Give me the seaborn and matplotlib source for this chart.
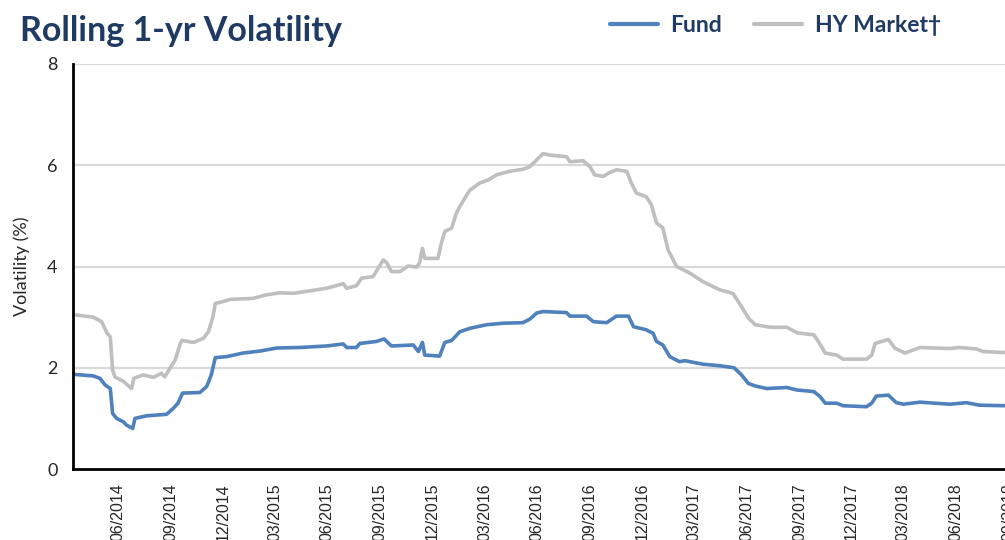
import pandas as pd
import numpy as np
import matplotlib
matplotlib.use('Agg')
import matplotlib.pyplot as plt
import matplotlib.dates as mdates
import seaborn as sns

# Fund rolling 1-yr volatility (%)
fund_dates = ['2014-03-15', '2014-04-19', '2014-05-01', '2014-05-10', '2014-05-19', '2014-05-23',
              '2014-05-30', '2014-06-11', '2014-06-16', '2014-06-27', '2014-07-01', '2014-07-21',
              '2014-08-13', '2014-08-25', '2014-09-06', '2014-09-14', '2014-09-22', '2014-10-22',
              '2014-11-03', '2014-11-11', '2014-11-18', '2014-12-08', '2015-01-05', '2015-02-04',
              '2015-03-05', '2015-04-14', '2015-05-31', '2015-06-29', '2015-07-05', '2015-07-22',
              '2015-07-28', '2015-08-26', '2015-09-08', '2015-09-21', '2015-10-29', '2015-11-07',
              '2015-11-14', '2015-11-18', '2015-12-14', '2015-12-23', '2016-01-04', '2016-01-18',
              '2016-02-05', '2016-03-05', '2016-04-03', '2016-05-07', '2016-05-19', '2016-05-31',
              '2016-06-11', '2016-07-22', '2016-07-28', '2016-08-26', '2016-09-07', '2016-09-30',
              '2016-10-17', '2016-11-07', '2016-11-16', '2016-12-08', '2016-12-20', '2016-12-26',
              '2017-01-06', '2017-01-18', '2017-02-04', '2017-02-13', '2017-03-17', '2017-04-15',
              '2017-05-10', '2017-05-23', '2017-06-04', '2017-06-16', '2017-07-06', '2017-08-10',
              '2017-08-28', '2017-09-26', '2017-10-07', '2017-10-16', '2017-11-05', '2017-11-16',
              '2017-12-27', '2018-01-05', '2018-01-13', '2018-02-03', '2018-02-17', '2018-03-01',
              '2018-03-30', '2018-05-21', '2018-06-19', '2018-07-12', '2018-08-26', '2018-09-30']
fund_vol = [1.87, 1.84, 1.79, 1.66, 1.59, 1.10,
            1.00, 0.93, 0.87, 0.80, 1.00, 1.05,
            1.07, 1.08, 1.20, 1.30, 1.50, 1.51,
            1.63, 1.86, 2.20, 2.22, 2.29, 2.33,
            2.39, 2.40, 2.43, 2.47, 2.40, 2.40,
            2.48, 2.52, 2.57, 2.43, 2.45, 2.32,
            2.50, 2.25, 2.23, 2.50, 2.54, 2.71,
            2.78, 2.85, 2.88, 2.89, 2.96, 3.08,
            3.11, 3.09, 3.02, 3.02, 2.91, 2.89,
            3.02, 3.02, 2.81, 2.75, 2.68, 2.52,
            2.45, 2.22, 2.12, 2.14, 2.07, 2.04,
            2.00, 1.86, 1.69, 1.64, 1.59, 1.61,
            1.56, 1.53, 1.43, 1.30, 1.30, 1.25,
            1.23, 1.30, 1.44, 1.46, 1.31, 1.28,
            1.32, 1.28, 1.31, 1.26, 1.25, 1.24]

# HY market rolling 1-yr volatility (%)
hy_dates = ['2014-03-15', '2014-04-19', '2014-05-04', '2014-05-13', '2014-05-19', '2014-05-23',
            '2014-05-27', '2014-06-11', '2014-06-25', '2014-06-29', '2014-07-15', '2014-08-02',
            '2014-08-16', '2014-08-22', '2014-08-31', '2014-09-09', '2014-09-18', '2014-09-21',
            '2014-10-11', '2014-10-28', '2014-11-06', '2014-11-14', '2014-11-18', '2014-12-02',
            '2014-12-14', '2015-01-23', '2015-02-15', '2015-03-10', '2015-04-03', '2015-05-02',
            '2015-05-31', '2015-06-29', '2015-07-05', '2015-07-22', '2015-07-31', '2015-08-20',
            '2015-08-29', '2015-09-07', '2015-09-13', '2015-09-21', '2015-10-06', '2015-10-20',
            '2015-11-04', '2015-11-09', '2015-11-14', '2015-11-18', '2015-12-11', '2015-12-17',
            '2015-12-23', '2016-01-04', '2016-01-12', '2016-01-18', '2016-01-30', '2016-02-05',
            '2016-02-22', '2016-03-08', '2016-03-22', '2016-04-14', '2016-05-07', '2016-05-19',
            '2016-05-28', '2016-06-11', '2016-06-23', '2016-07-22', '2016-07-28', '2016-08-20',
            '2016-09-01', '2016-09-09', '2016-09-24', '2016-10-06', '2016-10-17', '2016-11-04',
            '2016-11-12', '2016-11-21', '2016-12-08', '2016-12-17', '2016-12-26', '2017-01-06',
            '2017-01-15', '2017-01-30', '2017-02-22', '2017-03-17', '2017-04-15', '2017-05-08',
            '2017-05-23', '2017-06-04', '2017-06-16', '2017-07-12', '2017-08-10', '2017-08-28',
            '2017-09-26', '2017-10-04', '2017-10-16', '2017-11-05', '2017-11-16', '2017-12-27',
            '2018-01-05', '2018-01-11', '2018-02-03', '2018-02-14', '2018-03-04', '2018-03-30',
            '2018-05-21', '2018-06-07', '2018-07-07', '2018-07-18', '2018-08-26', '2018-09-30']
hy_vol = [3.05, 3.00, 2.91, 2.69, 2.61, 1.96,
          1.82, 1.73, 1.59, 1.79, 1.86, 1.81,
          1.89, 1.82, 1.99, 2.15, 2.48, 2.54,
          2.50, 2.58, 2.71, 3.01, 3.27, 3.31,
          3.35, 3.37, 3.44, 3.48, 3.47, 3.52,
          3.57, 3.66, 3.57, 3.62, 3.77, 3.80,
          3.97, 4.13, 4.07, 3.90, 3.90, 4.01,
          3.99, 4.07, 4.36, 4.16, 4.16, 4.46,
          4.69, 4.76, 5.05, 5.18, 5.41, 5.51,
          5.65, 5.71, 5.81, 5.88, 5.92, 5.97,
          6.07, 6.23, 6.20, 6.17, 6.07, 6.09,
          5.97, 5.81, 5.78, 5.86, 5.91, 5.88,
          5.65, 5.45, 5.38, 5.22, 4.86, 4.76,
          4.33, 4.00, 3.87, 3.70, 3.54, 3.47,
          3.21, 2.98, 2.85, 2.80, 2.80, 2.69,
          2.65, 2.52, 2.29, 2.25, 2.17, 2.17,
          2.25, 2.48, 2.56, 2.39, 2.29, 2.40,
          2.38, 2.40, 2.37, 2.32, 2.30, 2.30]

series_names = ['Fund', 'HY Market\u2020']
series_colors = ['#4F81BD', '#BFBFBF']
navy = '#1F3B63'

df = pd.concat([
    pd.DataFrame({'date': pd.to_datetime(fund_dates), 'vol': fund_vol, 'series': series_names[0]}),
    pd.DataFrame({'date': pd.to_datetime(hy_dates), 'vol': hy_vol, 'series': series_names[1]}),
])

sns.set_style('white')
plt.rcParams['font.family'] = ['Liberation Sans', 'DejaVu Sans']

fig = plt.figure(figsize=(10.05, 5.40), dpi=100)
# axes run past the right and bottom edge, like the cropped original
x0 = pd.Timestamp('2014-03-15')
x1 = pd.Timestamp('2018-09-30')
px_per_day = 838.3 / 1461
ax_w_px = (x1 - x0).days * px_per_day
ax = fig.add_axes([73 / 1005, 71 / 540, ax_w_px / 1005, 405 / 540])

for yv in [2, 4, 6, 8]:
    ax.axhline(yv, color='#D9D9D9', lw=1.6, zorder=0)

sns.lineplot(data=df, x='date', y='vol', hue='series', hue_order=series_names[::-1],
             palette=dict(zip(series_names, series_colors)), linewidth=2.6,
             legend=False, ax=ax, estimator=None, sort=False)

ax.set_xlim(x0, x1)
ax.set_ylim(0, 8)
ax.set_yticks([0, 2, 4, 6, 8])
ax.xaxis.set_major_locator(mdates.MonthLocator(bymonth=[3, 6, 9, 12]))
ax.xaxis.set_major_formatter(mdates.DateFormatter('%m/%Y'))
ax.tick_params(axis='x', labelrotation=90, labelsize=11.5, length=6, width=1.2,
               color='#7F7F7F', pad=4)
ax.tick_params(axis='y', labelsize=12, length=7, width=1.2, color='#404040', pad=4)
for lab in ax.get_yticklabels():
    lab.set_family(['Lato', 'DejaVu Sans'])
    lab.set_fontsize(13)

for s in ['top', 'right']:
    ax.spines[s].set_visible(False)
for s in ['left', 'bottom']:
    ax.spines[s].set_color('black')
    ax.spines[s].set_linewidth(2)

ax.set_xlabel('')
ax.set_ylabel('Volatility (%)', fontsize=13, family=['Lato', 'DejaVu Sans'])
ax.yaxis.set_label_coords(-51 / ax_w_px, 0.5)
ax.yaxis.label.set_va('center')

fig.text(20 / 1005, 1 - 31 / 540, 'Rolling 1-yr Volatility', ha='left', va='center',
         fontsize=24.5, fontweight='bold', color=navy, family=['Lato', 'DejaVu Sans'])

handles = [plt.Line2D([], [], color=c, lw=3) for c in series_colors]
leg = fig.legend(handles, series_names, loc='center left', bbox_to_anchor=(589 / 1005, 1 - 26 / 540),
                 ncol=2, frameon=False, handlelength=2.1, handletextpad=0.55, columnspacing=1.4,
                 prop={'family': ['Lato', 'DejaVu Sans'], 'weight': 'bold', 'size': 16.5})
for t in leg.get_texts():
    t.set_color(navy)

fig.savefig('out.png', dpi=100)
